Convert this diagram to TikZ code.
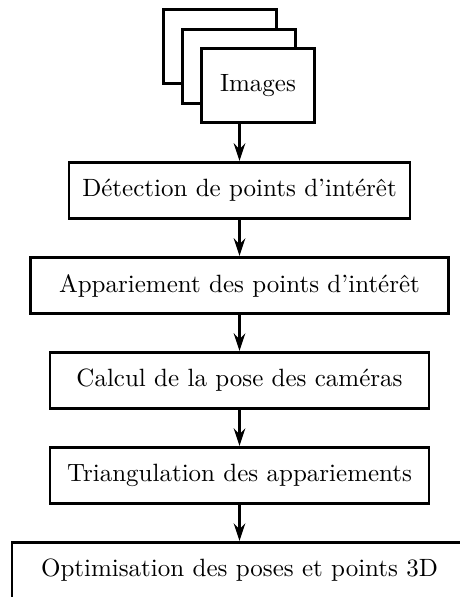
\documentclass[tikz,border=0pt]{standalone}
\usetikzlibrary{positioning,arrows.meta}
\begin{document}
\begin{tikzpicture}[x=0.4pt,y=-0.4pt,
  etape/.style={draw, line width=1.1pt, minimum height=22.6pt, inner xsep=5pt},
  image/.style={draw, fill=white, line width=1.1pt, minimum width=45.2pt, minimum height=29.6pt},
  fleche/.style={-{Stealth[length=7pt,width=4.6pt]}, line width=1.1pt},
  node distance=14.3pt]
  \useasboundingbox (0,0) rectangle (459,597);
  % pile d'images
  \node[image] (img3) at (220,46.5) {};
  \node[image] (img2) at (239,66.5) {};
  \node[image] (img1) at (258,85.5) {Images};
  % etapes
  \node[etape, minimum width=136.4pt] (detect) at (239.5,190.5) {Détection de points d'intérêt};
  \node[etape, minimum width=167.2pt, below=of detect] (appar) {Appariement des points d'intérêt};
  \node[etape, minimum width=151.6pt, below=of appar] (pose) {Calcul de la pose des caméras};
  \node[etape, minimum width=151.6pt, below=of pose] (triang) {Triangulation des appariements};
  \node[etape, minimum width=182pt, below=of triang] (optim) {Optimisation des poses et points 3D};
  \draw[fleche] (img1.south -| detect.north) -- (detect.north);
  \draw[fleche] (detect) -- (appar);
  \draw[fleche] (appar) -- (pose);
  \draw[fleche] (pose) -- (triang);
  \draw[fleche] (triang) -- (optim);
\end{tikzpicture}
\end{document}
